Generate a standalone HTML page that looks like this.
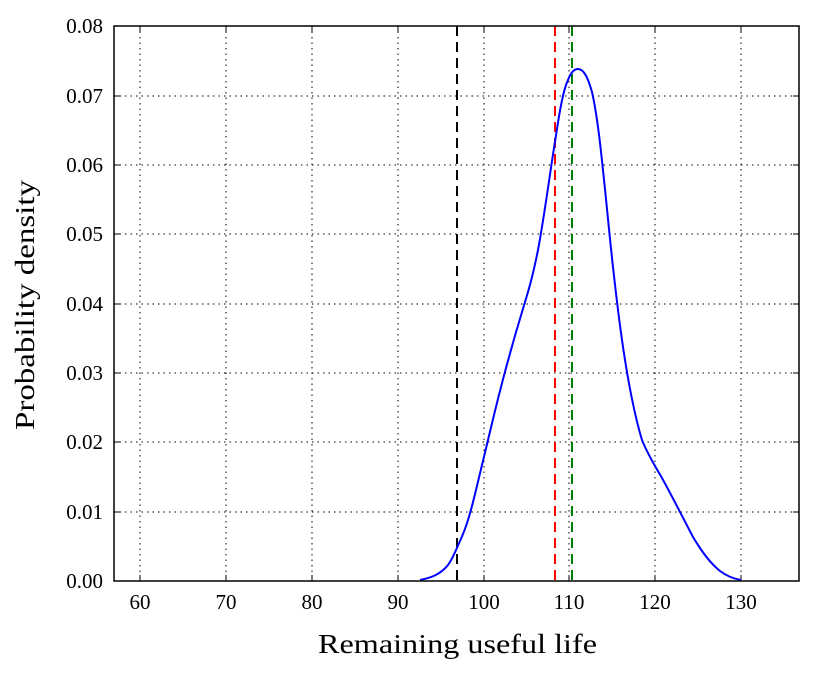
<!DOCTYPE html>
<html><head><meta charset="utf-8"><style>body{margin:0;background:#fff}svg text{font-family:"Liberation Serif",serif;fill:#000}</style></head>
<body>
<svg width="814" height="673" viewBox="0 0 814 673">
<rect width="814" height="673" fill="#fff"/>
<g stroke="#000" stroke-width="1" stroke-dasharray="1.5,4" fill="none">
<path d="M140,26V581M226,26V581M312,26V581M398,26V581M484,26V581M569,26V581M655,26V581M741,26V581"/>
<path d="M114,512H799M114,442H799M114,373H799M114,304H799M114,234H799M114,165H799M114,96H799"/>
</g>
<g stroke="#000" stroke-width="1">
<path d="M140,581v-6M226,581v-6M312,581v-6M398,581v-6M484,581v-6M569,581v-6M655,581v-6M741,581v-6"/>
<path d="M140,26v6M226,26v6M312,26v6M398,26v6M484,26v6M569,26v6M655,26v6M741,26v6"/>
<path d="M114,512h6M114,442h6M114,373h6M114,304h6M114,234h6M114,165h6M114,96h6"/>
<path d="M799,512h-6M799,442h-6M799,373h-6M799,304h-6M799,234h-6M799,165h-6M799,96h-6"/>
</g>
<path d="M457,26V581" stroke="#000" stroke-width="2" stroke-dasharray="10,6"/>
<path d="M555,26V581" stroke="#f00" stroke-width="2" stroke-dasharray="10,6"/>
<path d="M572,26V581" stroke="#008000" stroke-width="2" stroke-dasharray="10,6"/>
<path d="M420,580 C430,578 440,575 448,565 C453,558 456,550 460,541 C466,528 470,515 476,490 C482,465 488,440 494,415 C502,382 512,345 522,312 C528,292 532,280 538,250 C544,218 549,180 554,148 C558,123 561,100 566,85 C570,74 573,69 578,69 C584,69 588,78 592,92 C598,118 602,160 607,209 C612,260 617,305 622,340 C627,375 633,410 642,440 C648,455 655,466 662,478 C672,496 683,518 693,537 C702,552 710,563 720,571 C728,577 735,579 741,580" fill="none" stroke="#0000ff" stroke-width="2"/>
<rect x="114" y="26" width="685" height="555" fill="none" stroke="#000" stroke-width="1.5"/>
<g font-size="21" text-anchor="end">
<text x="103" y="588">0.00</text><text x="103" y="519">0.01</text><text x="103" y="449">0.02</text><text x="103" y="380">0.03</text><text x="103" y="311">0.04</text><text x="103" y="241">0.05</text><text x="103" y="172">0.06</text><text x="103" y="103">0.07</text><text x="103" y="33">0.08</text>
</g>
<g font-size="21" text-anchor="middle">
<text x="140" y="609">60</text><text x="226" y="609">70</text><text x="312" y="609">80</text><text x="398" y="609">90</text><text x="484" y="609">100</text><text x="569" y="609">110</text><text x="655" y="609">120</text><text x="741" y="609">130</text>
</g>
<text x="318" y="653" font-size="27" textLength="279" lengthAdjust="spacingAndGlyphs">Remaining useful life</text>
<text transform="translate(34,430) rotate(-90)" font-size="27" textLength="250" lengthAdjust="spacingAndGlyphs">Probability density</text>
</svg>
</body></html>
